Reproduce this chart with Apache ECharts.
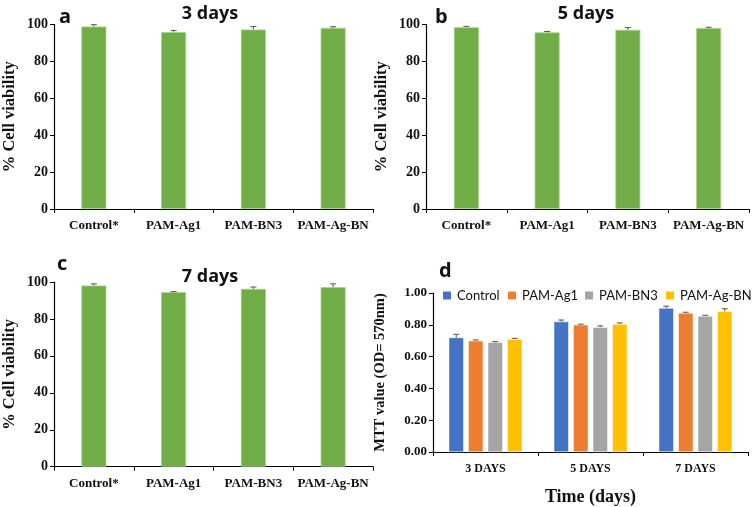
<!DOCTYPE html>
<html><head><meta charset="utf-8">
<script src="https://cdn.jsdelivr.net/npm/echarts@6/dist/echarts.min.js"></script>
<style>html,body{margin:0;padding:0;background:#fff}#c{width:756px;height:507px}</style>
</head><body><div id="c"></div>
<script>
const samples = ['Control*', 'PAM-Ag1', 'PAM-BN3', 'PAM-Ag-BN'];
const viab3 = [98.9, 95.9, 97.3, 98.2];
const err3 = [1.0, 0.9, 1.6, 0.6];
const viab5 = [98.5, 95.7, 97.1, 98.0];
const err5 = [0.5, 0.5, 1.2, 0.5];
const viab7 = [98.1, 94.5, 96.3, 97.2];
const err7 = [0.9, 0.3, 1.0, 1.8];
const viabTicks = [0, 20, 40, 60, 80, 100];

const timeCats = ['3 DAYS', '5 DAYS', '7 DAYS'];
const mttNames = ['Control', 'PAM-Ag1', 'PAM-BN3', 'PAM-Ag-BN'];
const mttControl = [0.72, 0.82, 0.905];
const mttAg1 = [0.70, 0.80, 0.875];
const mttBN3 = [0.69, 0.785, 0.855];
const mttAgBN = [0.71, 0.805, 0.885];
const mttErrControl = [0.02, 0.01, 0.012];
const mttErrAg1 = [0.005, 0.004, 0.004];
const mttErrBN3 = [0.004, 0.008, 0.005];
const mttErrAgBN = [0.005, 0.007, 0.016];
const mttTicks = [0, 0.2, 0.4, 0.6, 0.8, 1.0];

const serif = '"Liberation Serif", "Times New Roman", serif';
const sans = '"Open Sans", "Noto Sans", sans-serif';
const legendFont = 'Lato, "Open Sans", sans-serif';
const green = '#70AD47';
const mttColors = ['#4472C4', '#ED7D31', '#A5A5A5', '#FFC000'];

const chart = echarts.init(document.getElementById('c'));

const grids = [
  {left: 50, top: 24.5, width: 323, height: 184.5},
  {left: 426, top: 24.5, width: 323, height: 184.5},
  {left: 50, top: 282, width: 323, height: 184.7},
  {left: 433, top: 293, width: 315, height: 168.7}
];

function catAxis(gi, data, fs, margin) {
  return {
    type: 'category', gridIndex: gi, data: data,
    axisLine: {lineStyle: {color: '#000', width: 1.2}},
    axisTick: {show: true, length: 4, lineStyle: {color: '#000'}},
    axisLabel: {color: '#111', fontFamily: serif, fontWeight: 'bold', fontSize: fs, margin: margin, interval: 0}
  };
}
function valAxis(gi, max, interval, fmt, name, gap, nfs, lfs) {
  return {
    type: 'value', gridIndex: gi, min: 0, max: max, interval: interval,
    name: name, nameLocation: 'middle', nameGap: gap, nameRotate: 90,
    nameTextStyle: {color: '#111', fontFamily: serif, fontWeight: 'bold', fontSize: nfs},
    axisLine: {show: true, lineStyle: {color: '#000', width: 1.2}},
    axisTick: {show: true, length: 4, lineStyle: {color: '#000'}},
    splitLine: {show: false},
    axisLabel: {color: '#111', fontFamily: serif, fontWeight: 'bold', fontSize: lfs, margin: 6, formatter: fmt}
  };
}

function errSeries(xi, yi, vals, errs, offset) {
  return {
    type: 'custom', xAxisIndex: xi, yAxisIndex: yi, z: 5,
    data: vals.map((v, i) => [i, v, errs[i]]),
    renderItem: function (params, api) {
      const p0 = api.coord([api.value(0), api.value(1)]);
      const p1 = api.coord([api.value(0), api.value(1) + api.value(2)]);
      const x = p0[0] + offset;
      const st = {stroke: '#555', lineWidth: 1};
      return {type: 'group', children: [
        {type: 'line', shape: {x1: x, y1: p0[1], x2: x, y2: p1[1]}, style: st},
        {type: 'line', shape: {x1: x - 3, y1: p1[1], x2: x + 3, y2: p1[1]}, style: st}
      ]};
    }
  };
}

const viabSets = [[viab3, err3], [viab5, err5], [viab7, err7]];
const series = [];
viabSets.forEach((s, gi) => {
  series.push({type: 'bar', xAxisIndex: gi, yAxisIndex: gi, data: s[0], barWidth: 25,
    itemStyle: {color: green, borderColor: '#A9D18E', borderWidth: 0.8}});
  series.push(errSeries(gi, gi, s[0], s[1], 0));
});
const mttVals = [mttControl, mttAg1, mttBN3, mttAgBN];
const mttErrs = [mttErrControl, mttErrAg1, mttErrBN3, mttErrAgBN];
mttVals.forEach((v, i) => {
  series.push({type: 'bar', name: mttNames[i], xAxisIndex: 3, yAxisIndex: 3, data: v,
    barWidth: 15, barGap: '30%', itemStyle: {color: mttColors[i], borderColor: '#fff', borderWidth: 0.5}});
});
mttVals.forEach((v, i) => {
  series.push(errSeries(3, 3, v, mttErrs[i], (i - 1.5) * 19.5));
});

const titleStyle = {fontFamily: sans, fontWeight: 'bold', fontSize: 18, color: '#111'};
const letterStyle = {fontFamily: sans, fontWeight: 'bold', fontSize: 20, color: '#111'};

const legendLefts = [441, 506, 583, 664];
const legends = mttNames.map((n, i) => ({
  data: [n], left: legendLefts[i], top: 289, itemWidth: 10, itemHeight: 10, icon: 'rect',
  itemGap: 4, padding: 0, textStyle: {fontFamily: legendFont, fontSize: 13, color: '#111'}
}));

chart.setOption({
  animation: false,
  backgroundColor: '#fff',
  title: [
    {text: '3 days', left: 205, top: 0, textAlign: 'center', textStyle: titleStyle},
    {text: '5 days', left: 581, top: 0, textAlign: 'center', textStyle: titleStyle},
    {text: '7 days', left: 205, top: 263, textAlign: 'center', textStyle: titleStyle},
    {text: 'a', left: 54, top: 2, textStyle: letterStyle},
    {text: 'b', left: 430, top: 2, textStyle: letterStyle},
    {text: 'c', left: 52, top: 249, textStyle: letterStyle},
    {text: 'd', left: 434, top: 256, textStyle: letterStyle}
  ],
  legend: legends,
  grid: grids,
  xAxis: [catAxis(0, samples, 13, 10), catAxis(1, samples, 13, 10), catAxis(2, samples, 13, 10),
    Object.assign(catAxis(3, timeCats, 12, 11), {name: 'Time (days)', nameLocation: 'middle', nameGap: 36,
      nameTextStyle: {color: '#111', fontFamily: serif, fontWeight: 'bold', fontSize: 18}})],
  yAxis: [
    valAxis(0, 100, 20, v => v, '% Cell viability', 36, 16.5, 14),
    valAxis(1, 100, 20, v => v, '% Cell viability', 36, 16.5, 14),
    valAxis(2, 100, 20, v => v, '% Cell viability', 36, 16.5, 14),
    valAxis(3, 1, 0.2, v => v.toFixed(2), 'MTT value (OD= 570nm)', 45, 14.5, 13)
  ],
  series: series
});
</script></body></html>
